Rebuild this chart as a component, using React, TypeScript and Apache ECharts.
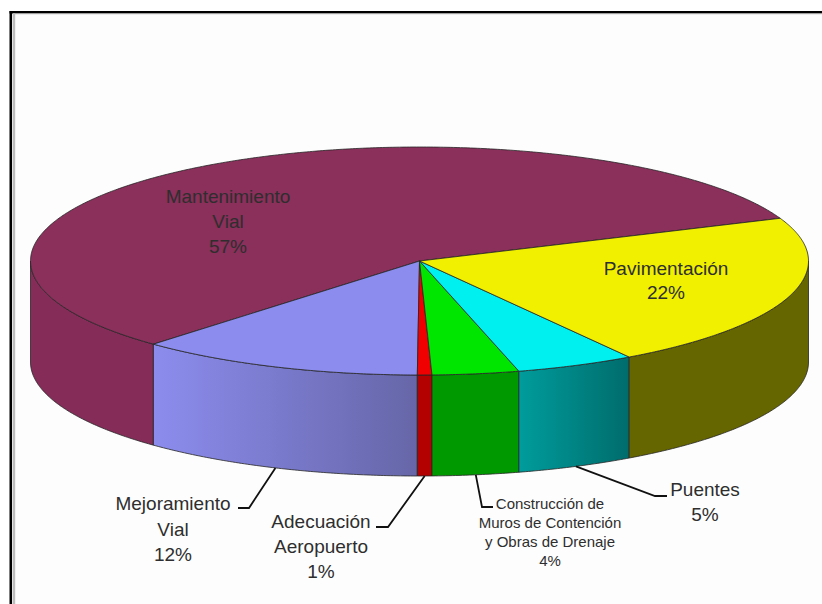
import React, { useEffect, useRef } from "react";
import * as echarts from "echarts";

// Data (percent of total)
const categories = [
  "Mantenimiento\nVial",
  "Mejoramiento\nVial",
  "Adecuación\nAeropuerto",
  "Construcción de\nMuros de Contención\ny Obras de Drenaje",
  "Puentes",
  "Pavimentación",
];
const shares = [56.9, 11.9, 0.6, 3.6, 4.95, 22.05];

// Styling, one entry per category
const topColors = ["#8B2F5B", "#8C8CEE", "#F00000", "#00E600", "#00F0F0", "#F0F000"];
const wallColors: [string, string][] = [
  ["#852C58", "#852C58"],
  ["#8C8CEE", "#6666A8"],
  ["#B30000", "#B30000"],
  ["#009900", "#009900"],
  ["#009C9C", "#006C6C"],
  ["#666600", "#666600"],
];
const labelCenter: [number, number][] = [
  [228, 221],
  [173, 529],
  [321, 546],
  [550, 531.5],
  [705, 502],
  [666, 280],
];
const labelFont = [19, 19, 19, 15, 19, 19];
const labelLineHeight = [25, 25.5, 25, 19, 25, 24];
const leaderElbow: ([number, number] | null)[] = [null, [249, 508], [388, 527], [482, 507], [655, 496], null];
const leaderEnd: ([number, number] | null)[] = [null, [238, 508], [376, 527], [493, 507], [667, 496], null];

// Pie geometry
const CX = 419.5;
const CY = 261;
const RX = 389;
const RY = 114;
const DEPTH = 101;
const START_DEG = 22;
const total = shares.reduce((a, b) => a + b, 0);

const pt = (deg: number, dy = 0): number[] => {
  const r = (deg * Math.PI) / 180;
  return [CX + RX * Math.cos(r), CY - RY * Math.sin(r) + dy];
};
const arc = (a: number, b: number, dy = 0): number[][] => {
  const n = Math.max(2, Math.ceil(Math.abs(b - a) * 2));
  const out: number[][] = [];
  for (let i = 0; i <= n; i++) out.push(pt(a + ((b - a) * i) / n, dy));
  return out;
};

const EDGE = "#262626";

function renderItem(params: any, api: any) {
  const i = params.dataIndex;
  let before = 0;
  for (let k = 0; k < i; k++) before += shares[k];
  const a1 = START_DEG + (before / total) * 360;
  const a2 = a1 + (api.value(0) / total) * 360;
  const children: any[] = [];

  // side wall: only the front half of the rim shows
  const w1 = Math.max(a1, 180);
  const w2 = Math.min(a2, 360);
  if (w2 > w1) {
    children.push({
      type: "polygon",
      shape: { points: [...arc(w1, w2), ...arc(w2, w1, DEPTH)] },
      style: {
        fill: new echarts.graphic.LinearGradient(0, 0, 1, 0, [
          { offset: 0, color: wallColors[i][0] },
          { offset: 1, color: wallColors[i][1] },
        ]),
        stroke: EDGE,
        lineWidth: 0.8,
      },
    });
  }
  // top face
  children.push({
    type: "polygon",
    shape: { points: [[CX, CY], ...arc(a1, a2)] },
    style: { fill: topColors[i], stroke: EDGE, lineWidth: 0.8 },
  });
  // leader line, from the middle of the slice on the lower rim
  const elbow = leaderElbow[i];
  const end = leaderEnd[i];
  if (elbow && end) {
    children.push({
      type: "polyline",
      shape: { points: [pt((a1 + a2) / 2, DEPTH), elbow, end] },
      style: { fill: "none", stroke: "#111", lineWidth: 1.8 },
    });
  }
  // label
  children.push({
    type: "text",
    x: labelCenter[i][0],
    y: labelCenter[i][1],
    style: {
      text: `${categories[i]}\n${Math.round(api.value(0))}%`,
      fill: "#2e2e2e",
      font: `${labelFont[i]}px "Liberation Sans", Arial, sans-serif`,
      lineHeight: labelLineHeight[i],
      align: "center",
      verticalAlign: "middle",
    },
  });
  return { type: "group", children };
}

export default function App() {
  const ref = useRef<HTMLDivElement>(null);
  useEffect(() => {
    const chart = echarts.init(ref.current!, undefined, { renderer: "svg", width: 822, height: 604 });
    chart.setOption({
      animation: false,
      backgroundColor: "#fff",
      graphic: [
        { type: "rect", z: 1, shape: { x: 12, y: 13, width: 810, height: 591 }, style: { fill: "#FDFDFD" } },
        { type: "rect", z: 2, shape: { x: 9.5, y: 11, width: 812.5, height: 2.4 }, style: { fill: "#000" } },
        { type: "rect", z: 2, shape: { x: 9.5, y: 11, width: 2.6, height: 593 }, style: { fill: "#000" } },
        { type: "rect", z: 2, shape: { x: 13, y: 13.4, width: 809, height: 0.8 }, style: { fill: "#BDBDBD" } },
        { type: "rect", z: 2, shape: { x: 13, y: 13.4, width: 2.2, height: 590.6 }, style: { fill: "#BDBDBD" } },
      ],
      series: [
        {
          type: "custom",
          coordinateSystem: "none",
          z: 5,
          renderItem,
          data: shares.map((v, i) => ({ name: categories[i], value: [v] })),
        },
      ],
    });
    return () => chart.dispose();
  }, []);
  return <div ref={ref} style={{ position: "absolute", left: 0, top: 0, width: 822, height: 604 }} />;
}
